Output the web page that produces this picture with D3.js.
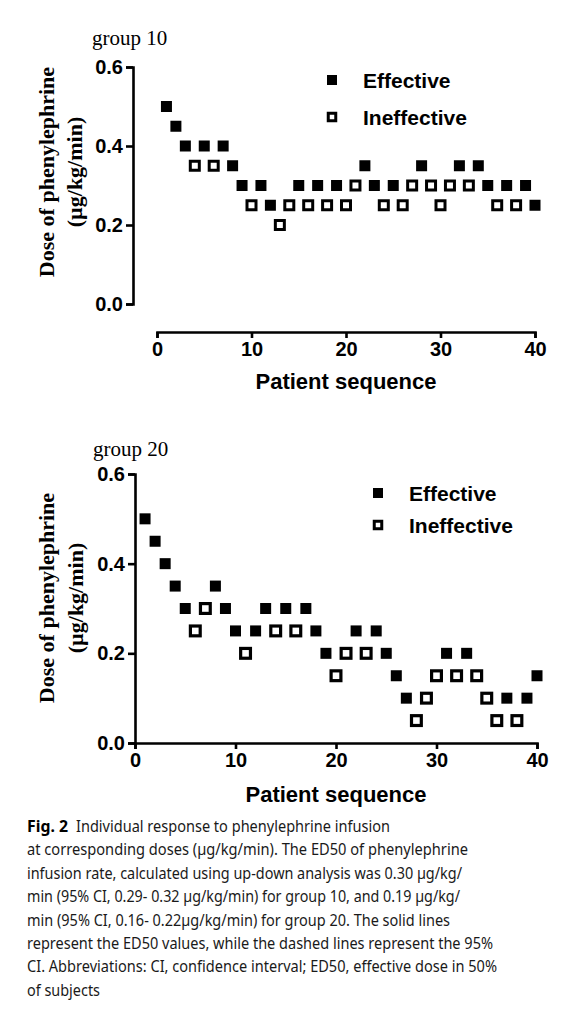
<!DOCTYPE html>
<html>
<head>
<meta charset="utf-8">
<script src="https://cdn.jsdelivr.net/npm/d3@7"></script>
<style>
  html, body { margin: 0; padding: 0; background: #fff; }
  svg { display: block; }
</style>
</head>
<body>
<svg id="chart" width="577" height="1024"></svg>
<script>
// ---------- data ----------
const xTicks = [0, 10, 20, 30, 40];
const yTicks = [0.0, 0.2, 0.4, 0.6];
const patientSeq = d3.range(1, 41);

const group10Dose = [
  0.50, 0.45, 0.40, 0.35, 0.40, 0.35, 0.40, 0.35, 0.30, 0.25,
  0.30, 0.25, 0.20, 0.25, 0.30, 0.25, 0.30, 0.25, 0.30, 0.25,
  0.30, 0.35, 0.30, 0.25, 0.30, 0.25, 0.30, 0.35, 0.30, 0.25,
  0.30, 0.35, 0.30, 0.35, 0.30, 0.25, 0.30, 0.25, 0.30, 0.25
];
const group10Response = [
  "E","E","E","I","E","I","E","E","E","I",
  "E","E","I","I","E","I","E","I","E","I",
  "I","E","E","I","E","I","I","E","I","I",
  "I","E","I","E","E","I","E","I","E","E"
];
const group20Dose = [
  0.50, 0.45, 0.40, 0.35, 0.30, 0.25, 0.30, 0.35, 0.30, 0.25,
  0.20, 0.25, 0.30, 0.25, 0.30, 0.25, 0.30, 0.25, 0.20, 0.15,
  0.20, 0.25, 0.20, 0.25, 0.20, 0.15, 0.10, 0.05, 0.10, 0.15,
  0.20, 0.15, 0.20, 0.15, 0.10, 0.05, 0.10, 0.05, 0.10, 0.15
];
const group20Response = [
  "E","E","E","E","E","I","I","E","E","E",
  "I","E","E","I","E","I","E","E","E","I",
  "I","E","I","E","E","E","E","I","I","I",
  "E","I","E","I","I","I","E","I","E","E"
];
const legendLabels = ["Effective", "Ineffective"];
const groupTitles = ["group 10", "group 20"];
const yTitleLines = ["Dose of phenylephrine", "(\u00b5g/kg/min)"];
const xTitle = "Patient sequence";
const captionBold = "Fig. 2";
const captionLines = [
  "Individual response to phenylephrine infusion",
  "at corresponding doses (\u00b5g/kg/min). The ED50 of phenylephrine",
  "infusion rate, calculated using up-down analysis was 0.30 \u00b5g/kg/",
  "min (95% CI, 0.29- 0.32 \u00b5g/kg/min) for group 10, and 0.19 \u00b5g/kg/",
  "min (95% CI, 0.16- 0.22\u00b5g/kg/min) for group 20. The solid lines",
  "represent the ED50 values, while the dashed lines represent the 95%",
  "CI. Abbreviations: CI, confidence interval; ED50, effective dose in 50%",
  "of subjects"
];

// ---------- drawing ----------
const svg = d3.select("#chart");
const SANS = "'Liberation Sans', Arial, sans-serif";
const SERIF = "'Liberation Serif', 'Times New Roman', serif";

function panel(cfg) {
  const g = svg.append("g");
  const x = d3.scaleLinear().domain([0, 40]).range(cfg.xRange);
  const y = d3.scaleLinear().domain([0, 0.6]).range(cfg.yRange);

  // title
  g.append("text")
    .attr("x", cfg.titleX).attr("y", cfg.titleY)
    .attr("font-family", SERIF).attr("font-size", 21)
    .text(cfg.title);

  // y axis
  const yAxis = g.append("g")
    .attr("transform", `translate(${cfg.yAxisX},0)`)
    .call(d3.axisLeft(y).tickValues(yTicks).tickFormat(d3.format(".1f"))
      .tickSize(7).tickSizeOuter(7).tickPadding(3));
  // x axis
  const xAxis = g.append("g")
    .attr("transform", `translate(0,${cfg.xAxisY})`)
    .call(d3.axisBottom(x).tickValues(xTicks).tickFormat(d3.format("d"))
      .tickSize(6).tickSizeOuter(6).tickPadding(4));

  [yAxis, xAxis].forEach(ax => {
    ax.selectAll("path.domain").attr("stroke", "#000").attr("stroke-width", 2.6);
    ax.selectAll(".tick line").attr("stroke", "#000").attr("stroke-width", 2.6);
    ax.selectAll(".tick text")
      .attr("font-family", SANS).attr("font-weight", "bold")
      .attr("font-size", 20).attr("fill", "#000");
  });

  // y title (two lines, rotated)
  const yc = cfg.yTitleCenter;
  yTitleLines.forEach((t, i) => {
    g.append("text")
      .attr("transform", `translate(${cfg.yTitleX[i]},${yc}) rotate(-90)`)
      .attr("text-anchor", "middle")
      .attr("font-family", SERIF).attr("font-weight", "bold")
      .attr("font-size", 22)
      .text(t);
  });

  // x title
  g.append("text")
    .attr("x", (cfg.xRange[0] + cfg.xRange[1]) / 2)
    .attr("y", cfg.xTitleY)
    .attr("text-anchor", "middle")
    .attr("font-family", SANS).attr("font-weight", "bold")
    .attr("font-size", 22)
    .text(xTitle);

  // points
  const pts = patientSeq.map((s, i) => ({ s, dose: cfg.dose[i], r: cfg.resp[i] }));
  const fs = cfg.fillSize, os = cfg.openSize, sw = cfg.openStroke;
  g.selectAll("rect.eff").data(pts.filter(d => d.r === "E")).join("rect")
    .attr("class", "eff")
    .attr("x", d => x(d.s) - fs / 2).attr("y", d => y(d.dose) - fs / 2)
    .attr("width", fs).attr("height", fs).attr("fill", "#000");
  g.selectAll("rect.ineff").data(pts.filter(d => d.r === "I")).join("rect")
    .attr("class", "ineff")
    .attr("x", d => x(d.s) - (os - sw) / 2).attr("y", d => y(d.dose) - (os - sw) / 2)
    .attr("width", os - sw).attr("height", os - sw)
    .attr("fill", "#fff").attr("stroke", "#000").attr("stroke-width", sw);

  // legend
  legendLabels.forEach((lab, i) => {
    const cy = cfg.legendY[i];
    if (i === 0) {
      g.append("rect").attr("x", cfg.legendMarkX - 5).attr("y", cy - 5)
        .attr("width", 10).attr("height", 10).attr("fill", "#000");
    } else {
      g.append("rect").attr("x", cfg.legendMarkX - 3.75).attr("y", cy - 3.75)
        .attr("width", 7.5).attr("height", 7.5)
        .attr("fill", "#fff").attr("stroke", "#000").attr("stroke-width", 3);
    }
    g.append("text")
      .attr("x", cfg.legendTextX).attr("y", cy + 7.5)
      .attr("font-family", SANS).attr("font-weight", "bold")
      .attr("font-size", 21)
      .text(lab);
  });
}

panel({
  title: groupTitles[0], titleX: 92, titleY: 45,
  xRange: [157, 535], yRange: [304, 67],
  yAxisX: 133, xAxisY: 332,
  yTitleX: [54, 82], yTitleCenter: 172,
  xTitleY: 389,
  dose: group10Dose, resp: group10Response,
  fillSize: 11, openSize: 12, openStroke: 3,
  legendMarkX: 332, legendY: [80, 117], legendTextX: 363
});

panel({
  title: groupTitles[1], titleX: 93, titleY: 456,
  xRange: [135, 537], yRange: [743, 474],
  yAxisX: 135, xAxisY: 743,
  yTitleX: [54, 83], yTitleCenter: 598,
  xTitleY: 802,
  dose: group20Dose, resp: group20Response,
  fillSize: 11, openSize: 13, openStroke: 3.2,
  legendMarkX: 378, legendY: [493, 525], legendTextX: 409
});

// caption
const CAP = "'Noto Sans', 'Open Sans', sans-serif";
const capWidths = [314, 441, 435, 433, 423, 466, 470, 73];
const capX = [76, 27, 27, 27, 27, 27, 27, 27];
const cap = svg.append("g");
cap.append("text")
  .attr("x", 27).attr("y", 832)
  .attr("font-family", CAP).attr("font-weight", "bold").attr("font-size", 16)
  .attr("textLength", 41).attr("lengthAdjust", "spacingAndGlyphs")
  .text(captionBold);
captionLines.forEach((t, i) => {
  cap.append("text")
    .attr("x", capX[i]).attr("y", 832 + i * 23.4)
    .attr("font-family", CAP).attr("font-size", 16).attr("fill", "#1a1a1a")
    .attr("textLength", capWidths[i]).attr("lengthAdjust", "spacingAndGlyphs")
    .text(t);
});
</script>
</body>
</html>
